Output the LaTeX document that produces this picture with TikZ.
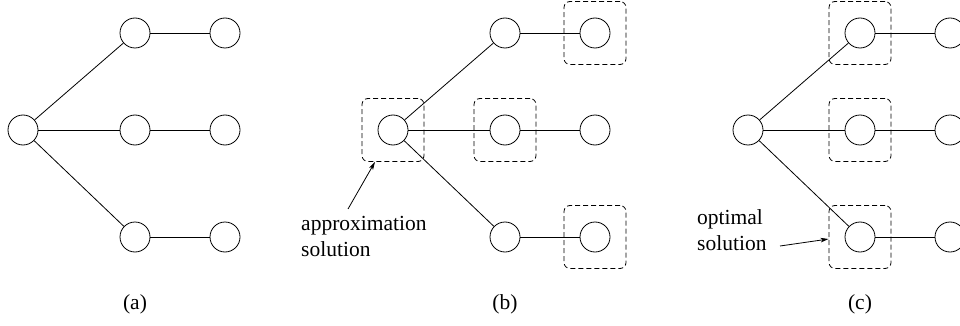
\documentclass[tikz,border=0pt]{standalone}
\usepackage{fontspec}
\setmainfont{Liberation Serif}
\usetikzlibrary{arrows.meta}
\begin{document}
\begin{tikzpicture}[x=1pt,y=-1pt,
  vertex/.style={circle,draw,minimum size=30pt,inner sep=0pt,line width=0.8pt},
  selbox/.style={draw,line width=0.8pt,dash pattern=on 5pt off 3pt,rounded corners=6pt,
                 minimum width=62pt,minimum height=63pt,inner sep=0pt},
  edge/.style={line width=0.8pt},
  pointer/.style={line width=0.8pt,-{Stealth[length=8pt,width=4.5pt,inset=2pt]}},
  lbl/.style={font=\fontsize{21.5}{26}\selectfont,align=left,inner sep=0pt}]
\useasboundingbox (0,0) rectangle (960,326);

% three copies of the same tree: root, middle column, right column
\foreach \p/\dx in {a/0,b/370,c/725}{
  \node[vertex] (\p r)  at (23+\dx,130) {};
  \node[vertex] (\p m1) at (135+\dx,33) {};
  \node[vertex] (\p m2) at (135+\dx,130) {};
  \node[vertex] (\p m3) at (135+\dx,237) {};
  \node[vertex] (\p e1) at (225+\dx,33) {};
  \node[vertex] (\p e2) at (225+\dx,130) {};
  \node[vertex] (\p e3) at (225+\dx,237) {};
  \draw[edge] (\p r) -- (\p m1);
  \draw[edge] (\p r) -- (\p m2);
  \draw[edge] (\p r) -- (\p m3);
  \draw[edge] (\p m1) -- (\p e1);
  \draw[edge] (\p m2) -- (\p e2);
  \draw[edge] (\p m3) -- (\p e3);
  \node[lbl] (cap\p) at (135+\dx,304) {(\p)};
}

% (b): nodes picked by the approximation
\node[selbox] (sbr)  at (br) {};
\node[selbox] (sbe1) at (be1) {};
\node[selbox] (sbm2) at (bm2) {};
\node[selbox] (sbe3) at (be3) {};

% (c): nodes of the optimal solution
\node[selbox] (scm1) at (cm1) {};
\node[selbox] (scm2) at (cm2) {};
\node[selbox] (scm3) at (cm3) {};

% annotations
\node[lbl,anchor=north west] (apx) at (301,216) {approximation\\solution};
\coordinate (apxtail) at (348,209);
\draw[pointer] (apxtail) -- ([xshift=-18pt]sbr.south);

\node[lbl,anchor=north west] (opt) at (697,209) {optimal\\solution};
\coordinate (opttail) at (780,246);
\draw[pointer] (opttail) -- ([yshift=-2pt]scm3.west);
\end{tikzpicture}
\end{document}
